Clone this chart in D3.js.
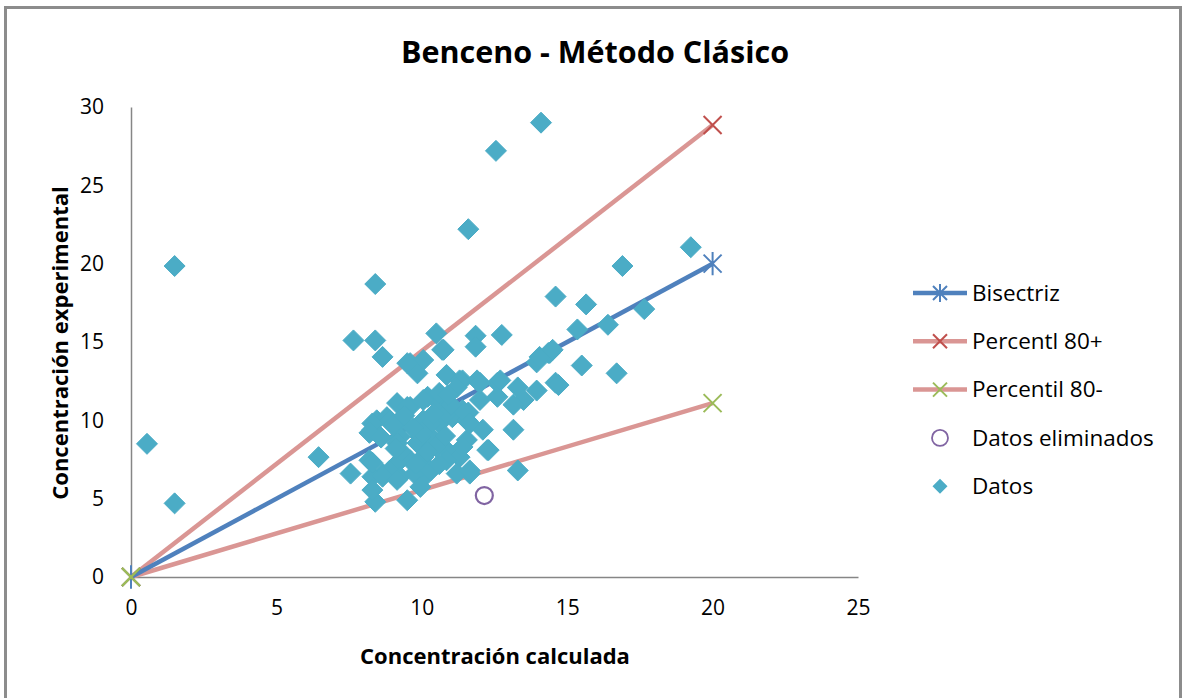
<!DOCTYPE html>
<html>
<head>
<meta charset="utf-8">
<script src="https://cdn.jsdelivr.net/npm/d3@7"></script>
<style>
  body { margin: 0; background: #fff; }
  svg { display: block; }
  text { font-family: "Open Sans", Lato, sans-serif; }
</style>
</head>
<body>
<svg id="chart" width="1186" height="698"></svg>
<script>
const title = "Benceno - Método Clásico";
const xTitle = "Concentración calculada";
const yTitle = "Concentración experimental";
const xTicks = [0, 5, 10, 15, 20, 25];
const yTicks = [0, 5, 10, 15, 20, 25, 30];

const bisectriz = [[0, 0], [20, 20]];
const percentilMas = [[0, 0], [20, 28.85]];
const percentilMenos = [[0, 0], [20, 11.1]];
const eliminados = [[12.15, 5.2]];

const datosX = [0.55, 1.5, 1.5, 14.1, 12.55, 11.6, 19.25, 16.9, 14.6, 15.65, 16.4, 17.65, 15.35, 14.4, 15.5, 16.7, 14.6,
  8.4, 7.65, 8.4, 8.65, 6.45, 7.55, 8.4, 9.5, 13.3, 12.3, 13.15, 14.7,
  11.85, 11.85, 12.75, 14.35, 13.95, 11.4, 11.9, 12.6, 13.3, 13.95, 13.5, 13.15, 12.6, 12.0, 11.6, 12.1, 11.55,
  10.5, 10.7, 9.6, 10.05, 9.85, 10.85, 11.3, 12.0, 12.7, 14.05, 14.5,
  9.15, 8.45, 8.3, 8.8, 9.25, 9.6, 10.2, 10.6, 10.05, 10.6, 11.05, 11.55, 9.25, 9.85, 10.4, 10.85, 11.3, 11.65, 11.2, 10.2,
  9.6, 9.15, 8.65, 8.2, 8.3, 8.3, 9.25, 9.75, 12.25,
  8.3, 8.2, 8.3, 8.9, 9.15, 8.9, 9.5, 10.05, 10.6, 11.2, 10.3, 10.85, 11.4, 11.65, 9.95, 10.5, 10.05, 10.3, 10.85, 11.65,
  11.4, 8.65, 9.15, 9.95, 9.5, 10.75,
  9.0, 9.4, 10.0, 10.4, 9.7, 10.8, 11.0, 9.3, 10.2, 9.8, 10.6, 9.1, 8.6, 10.9];
const datosY = [8.5, 4.7, 19.85, 29.0, 27.2, 22.2, 21.05, 19.85, 17.9, 17.4, 16.1, 17.1, 15.8, 14.3, 13.5, 13.0, 12.4,
  18.7, 15.1, 15.1, 14.05, 7.65, 6.6, 4.8, 4.9, 6.8, 8.1, 9.4, 12.25,
  15.4, 14.7, 15.45, 14.3, 13.7, 12.55, 12.55, 12.4, 12.1, 11.9, 11.3, 11.0, 11.5, 11.3, 10.5, 9.4, 8.75,
  15.55, 14.5, 13.65, 13.85, 13.0, 12.9, 12.55, 12.4, 12.55, 14.05, 14.5,
  11.1, 10.0, 9.4, 10.2, 10.0, 10.85, 11.5, 11.1, 10.0, 9.8, 10.2, 10.0, 8.95, 8.55, 8.75, 8.1, 7.65, 6.6, 6.6, 6.6,
  7.45, 7.25, 6.6, 7.45, 6.4, 5.55, 6.4, 6.6, 8.1,
  9.8, 9.2, 7.3, 6.8, 8.55, 10.0, 10.85, 11.3, 11.75, 12.1, 9.8, 10.45, 10.65, 9.8, 8.95, 8.3, 7.65, 6.8, 7.45, 6.8,
  8.3, 6.4, 6.2, 5.75, 13.65, 14.5,
  9.7, 10.3, 9.2, 10.4, 9.5, 9.0, 11.0, 8.0, 8.0, 7.2, 7.2, 8.2, 8.9, 11.6];

const svg = d3.select("#chart");

// outer frame
svg.append("rect").attr("x", 5.5).attr("y", 7.5).attr("width", 1175).attr("height", 700)
  .attr("fill", "#fff").attr("stroke", "#8c8c8c").attr("stroke-width", 3);

const x = d3.scaleLinear().domain([0, 25]).range([131, 858]);
const y = d3.scaleLinear().domain([0, 30]).range([577, 107]);

// axes
const gx = svg.append("g").attr("transform", `translate(0,${y(0)})`)
  .call(d3.axisBottom(x).tickValues(xTicks).tickSize(0).tickPadding(23));
const gy = svg.append("g").attr("transform", `translate(${x(0)},0)`)
  .call(d3.axisLeft(y).tickValues(yTicks).tickSize(0).tickPadding(27));
[gx, gy].forEach(g => {
  g.select(".domain").attr("stroke", "#868686").attr("stroke-width", 1.5);
  g.selectAll("text").attr("font-size", 21).attr("fill", "#000")
    .attr("font-family", "'Open Sans', Lato, sans-serif");
});

// lines
const line = d3.line().x(d => x(d[0])).y(d => y(d[1]));
const lineSeries = [
  {data: percentilMenos, color: "#DA9694", mark: "#9BBB59", type: "x"},
  {data: percentilMas, color: "#DA9694", mark: "#C0504D", type: "x"},
  {data: bisectriz, color: "#4F81BD", mark: "#4F81BD", type: "star"}
];

function drawMarker(g, type, color, size) {
  if (type === "x") {
    g.append("path").attr("d", `M${-size},${-size}L${size},${size}M${-size},${size}L${size},${-size}`)
      .attr("stroke", color).attr("stroke-width", 2).attr("fill", "none");
  } else if (type === "star") {
    g.append("path").attr("d", `M${-size},${-size}L${size},${size}M${-size},${size}L${size},${-size}M0,${-size*1.3}L0,${size*1.3}`)
      .attr("stroke", color).attr("stroke-width", 2).attr("fill", "none");
  }
}

lineSeries.forEach(s => {
  svg.append("path").datum(s.data).attr("d", line)
    .attr("stroke", s.color).attr("stroke-width", 4.5).attr("fill", "none");
});
lineSeries.slice().reverse().forEach(s => {
  s.data.forEach(d => {
    const g = svg.append("g").attr("transform", `translate(${x(d[0])},${y(d[1])})`);
    drawMarker(g, s.type, s.mark, 9);
  });
});
drawMarker(svg.append("g").attr("transform", `translate(${x(0)},${y(0)})`), "x", "#9BBB59", 9);

// datos
const datos = datosX.map((v, i) => [v, datosY[i]]);
const diamond = "M0,-10.5L10.5,0L0,10.5L-10.5,0Z";
svg.append("g").selectAll("path").data(datos).join("path")
  .attr("d", diamond)
  .attr("transform", d => `translate(${x(d[0])},${y(d[1])})`)
  .attr("fill", "#4BACC6").attr("stroke", "#4BACC6").attr("stroke-width", 1).attr("stroke-linejoin", "round");

// eliminados
svg.append("g").selectAll("circle").data(eliminados).join("circle")
  .attr("cx", d => x(d[0])).attr("cy", d => y(d[1])).attr("r", 8.5)
  .attr("fill", "none").attr("stroke", "#8064A2").attr("stroke-width", 2.2);

// titles
svg.append("text").attr("x", 595).attr("y", 63).attr("text-anchor", "middle")
  .attr("font-size", 30.5).attr("font-weight", "bold").text(title);
svg.append("text").attr("x", 495).attr("y", 664).attr("text-anchor", "middle")
  .attr("font-size", 22).attr("font-weight", "bold").text(xTitle);
svg.append("text").attr("transform", "translate(68,343) rotate(-90)").attr("text-anchor", "middle")
  .attr("font-size", 22).attr("font-weight", "bold").text(yTitle);

// legend
const legend = [
  {label: "Bisectriz", kind: "line", color: "#4F81BD", mark: "#4F81BD", type: "star"},
  {label: "Percentl 80+", kind: "line", color: "#DA9694", mark: "#C0504D", type: "x"},
  {label: "Percentil 80-", kind: "line", color: "#DA9694", mark: "#9BBB59", type: "x"},
  {label: "Datos eliminados", kind: "circle"},
  {label: "Datos", kind: "diamond"}
];
const lg = svg.append("g");
legend.forEach((l, i) => {
  const cy = 293 + i * 48.3;
  const g = lg.append("g").attr("transform", `translate(0,${cy})`);
  if (l.kind === "line") {
    g.append("line").attr("x1", 913).attr("x2", 967).attr("y1", 0).attr("y2", 0)
      .attr("stroke", l.color).attr("stroke-width", 4.5);
    drawMarker(g.append("g").attr("transform", "translate(940,0)"), l.type, l.mark, 7);
  } else if (l.kind === "circle") {
    g.append("circle").attr("cx", 940).attr("cy", 0).attr("r", 8)
      .attr("fill", "none").attr("stroke", "#8064A2").attr("stroke-width", 1.8);
  } else {
    g.append("path").attr("d", "M0,-7.5L7.5,0L0,7.5L-7.5,0Z").attr("transform", "translate(940,0)")
      .attr("fill", "#4BACC6");
  }
  g.append("text").attr("x", 972).attr("y", 0).attr("dy", "0.35em")
    .attr("font-size", 22.5).text(l.label);
});
</script>
</body>
</html>
